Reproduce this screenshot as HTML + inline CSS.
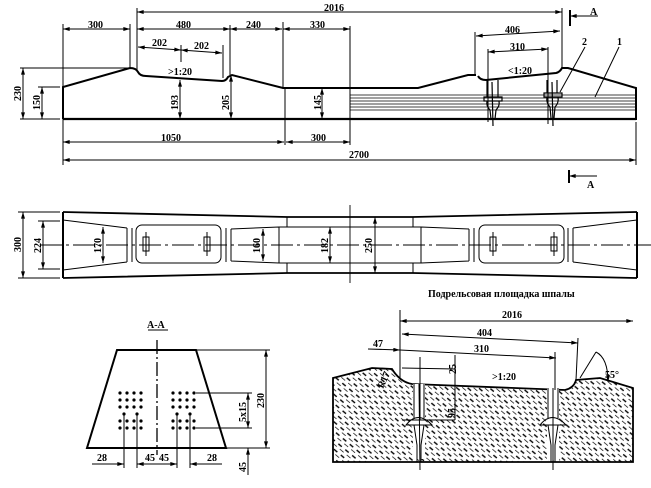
<!DOCTYPE html>
<html><head><meta charset="utf-8"><style>
body{margin:0;background:#fff}
svg{display:block}
text{font-family:"Liberation Serif",serif;font-weight:bold;font-size:10px;fill:#000}
</style></head><body>
<svg width="651" height="488" viewBox="0 0 651 488" xmlns="http://www.w3.org/2000/svg">
<defs>
<marker id="a" viewBox="0 0 10 6" refX="10" refY="3" markerWidth="8" markerHeight="4" orient="auto-start-reverse"><path d="M0,0L10,3L0,6z"/></marker>
<pattern id="h" width="7" height="9" patternUnits="userSpaceOnUse" patternTransform="rotate(-50)"><line x1="0" y1="0" x2="0" y2="5" stroke="#000" stroke-width="1.4"/><line x1="3.5" y1="4.5" x2="3.5" y2="9.5" stroke="#000" stroke-width="1.4"/></pattern>
</defs>
<g stroke="#000" fill="none" stroke-width="1">
<path d="M63,119V87L130,68Q136,68 138,72Q140,76 146,76L222,81Q226,81 228,77L232,75L283,88H418L468,75H476M478,76Q480,80 486,80L556,73Q560,72 562,68L568,68L636,88V119H63" stroke-width="2"/>
<line x1="63" y1="119" x2="636" y2="119" stroke-width="2.2"/>
<g stroke-width="0.8"><line x1="350" y1="95" x2="636" y2="95"/><line x1="350" y1="98" x2="636" y2="98"/><line x1="350" y1="101" x2="636" y2="101"/><line x1="350" y1="104" x2="636" y2="104"/><line x1="350" y1="107" x2="636" y2="107"/><line x1="350" y1="110" x2="636" y2="110"/></g>
<line x1="285" y1="88" x2="285" y2="145"/>
<line x1="283" y1="22" x2="283" y2="88"/>
<line x1="350" y1="26" x2="350" y2="145"/>
<line x1="137" y1="8" x2="137" y2="72"/>
<line x1="130" y1="24" x2="130" y2="68"/>
<line x1="230" y1="25" x2="230" y2="75"/>
<line x1="223" y1="45" x2="223" y2="78"/>
<line x1="63" y1="24" x2="63" y2="165"/>
<line x1="636" y1="122" x2="636" y2="165"/>
<line x1="562" y1="8" x2="562" y2="68"/>
<line x1="475" y1="32" x2="475" y2="75"/>
<line x1="488" y1="49" x2="488" y2="122"/>
<line x1="548" y1="47" x2="548" y2="124"/>
<line x1="20" y1="68" x2="130" y2="68"/>
<line x1="38" y1="87" x2="60" y2="87"/>
<line x1="20" y1="119" x2="60" y2="119"/>
<line x1="181" y1="45" x2="181" y2="62"/>
<g marker-start="url(#a)" marker-end="url(#a)">
<line x1="137" y1="12" x2="562" y2="12"/>
<line x1="63" y1="29" x2="130" y2="29"/>
<line x1="137" y1="29" x2="230" y2="29"/>
<line x1="230" y1="29" x2="282" y2="29"/>
<line x1="283" y1="29" x2="350" y2="29"/>
<line x1="138" y1="47" x2="181" y2="50"/>
<line x1="181" y1="50" x2="222" y2="53"/>
<line x1="180" y1="80" x2="180" y2="119"/>
<line x1="231" y1="75" x2="231" y2="119"/>
<line x1="322" y1="88" x2="322" y2="119"/>
<line x1="23" y1="68" x2="23" y2="119"/>
<line x1="42" y1="87" x2="42" y2="119"/>
<line x1="63" y1="142" x2="284" y2="142"/>
<line x1="286" y1="142" x2="350" y2="142"/>
<line x1="63" y1="160" x2="636" y2="160"/>
<line x1="476" y1="36" x2="560" y2="31"/>
<line x1="488" y1="52" x2="548" y2="49"/>
</g>
<g stroke-width="1.2">
<path d="M487,80V97M498,80V97M484,97H502V101H484zM487,101Q486,106 490,110L491,119M499,101Q500,106 496,110L495,119"/>
<line x1="492" y1="82" x2="493" y2="126"/>
<path d="M547,80V93M557,80V93M544,93H562V97H544zM547,97Q546,103 550,107L551,118M558,97Q559,103 555,107L554,118"/>
<line x1="552" y1="82" x2="553" y2="126"/>
</g>
<line x1="560" y1="92" x2="585" y2="47"/>
<line x1="595" y1="97" x2="619" y2="47"/>
<line x1="570" y1="10" x2="570" y2="26" stroke-width="2"/>
<line x1="570" y1="16" x2="598" y2="16" marker-start="url(#a)"/>
<line x1="569" y1="170" x2="569" y2="183" stroke-width="2"/>
<line x1="569" y1="176" x2="597" y2="176" marker-start="url(#a)"/>

<g id="pl">
<path d="M63,212L287,217H350M63,278L287,273H350" stroke-width="1.8"/>
<line x1="63" y1="212" x2="63" y2="278" stroke-width="2"/>
<path d="M63,220L127,228M63,270L127,262M127,228V262M132,228V262M226,228V262M231,229V261M231,229L279,227M231,261L279,263M279,227V263M279,227H350M279,263H350M287,217V227M287,263V273"/>
<rect x="136" y="225" width="85" height="38" rx="6"/>
<rect x="143" y="237" width="6" height="14"/><rect x="204" y="237" width="6" height="14"/>
<line x1="146" y1="232" x2="146" y2="256"/><line x1="207" y1="232" x2="207" y2="256"/>
</g>
<use href="#pl" transform="matrix(-1,0,0,1,700,0)"/>
<line x1="40" y1="245" x2="651" y2="245" stroke-dasharray="22,4,3,4" stroke-width="0.9"/>
<line x1="350" y1="205" x2="350" y2="283" stroke-width="0.9"/>
<line x1="18" y1="212" x2="60" y2="212"/><line x1="18" y1="278" x2="60" y2="278"/>
<line x1="38" y1="221" x2="60" y2="221"/><line x1="38" y1="269" x2="60" y2="269"/>
<g marker-start="url(#a)" marker-end="url(#a)">
<line x1="23" y1="212" x2="23" y2="278"/>
<line x1="43" y1="221" x2="43" y2="269"/>
<line x1="103" y1="227" x2="103" y2="263"/>
<line x1="263" y1="229" x2="263" y2="261"/>
<line x1="330" y1="227" x2="330" y2="263"/>
<line x1="375" y1="217" x2="375" y2="273"/>
</g>

<line x1="148" y1="330" x2="168" y2="330"/>
<path d="M117,350H196L226,448H87z" stroke-width="2"/>
<line x1="157" y1="340" x2="157" y2="455" stroke-dasharray="14,3,2,3" stroke-width="1.3"/>
<line x1="196" y1="350" x2="270" y2="350"/><line x1="226" y1="448" x2="270" y2="448"/>
<line x1="196" y1="393" x2="252" y2="393"/><line x1="196" y1="428" x2="252" y2="428"/>
<line x1="124" y1="415" x2="124" y2="468"/><line x1="137" y1="415" x2="137" y2="468"/>
<line x1="177" y1="415" x2="177" y2="468"/><line x1="190" y1="415" x2="190" y2="468"/>
<g marker-start="url(#a)" marker-end="url(#a)">
<line x1="266" y1="350" x2="266" y2="448"/>
<line x1="248" y1="393" x2="248" y2="428"/>
</g>
<line x1="248" y1="475" x2="248" y2="448" marker-end="url(#a)"/>
<line x1="92" y1="464" x2="124" y2="464" marker-end="url(#a)"/>
<line x1="137" y1="464" x2="157" y2="464" marker-start="url(#a)"/>
<line x1="157" y1="464" x2="177" y2="464" marker-end="url(#a)"/>
<line x1="190" y1="464" x2="222" y2="464" marker-start="url(#a)"/>

<path d="M333,378L372,368L392,369Q400,382 412,384L565,390Q574,388 576,380L600,378L633,388V462H333z" fill="url(#h)" stroke-width="1.8"/>
<rect x="413" y="384" width="12" height="75" fill="#fff" stroke="none"/>
<rect x="547" y="388" width="12" height="72" fill="#fff" stroke="none"/>
<path d="M414,384V418M424,384V418M406,425Q418,410 432,425zM414,425L417,445V462M424,425L421,445V462M548,388V418M558,388V418M540,425Q552,410 566,425zM548,425L551,445V462M558,425L555,445V462"/>
<line x1="419" y1="384" x2="420" y2="470"/><line x1="553" y1="388" x2="553" y2="470"/>
<line x1="400" y1="310" x2="400" y2="378"/>
<line x1="578" y1="338" x2="576" y2="380"/>
<line x1="420" y1="357" x2="420" y2="420"/>
<line x1="402" y1="368" x2="455" y2="369"/>
<line x1="455" y1="355" x2="455" y2="420"/>
<line x1="402" y1="420" x2="455" y2="420"/>
<line x1="555" y1="352" x2="555" y2="390"/>
<g marker-start="url(#a)" marker-end="url(#a)">
<line x1="400" y1="321" x2="633" y2="321"/>
<line x1="402" y1="334" x2="578" y2="343"/>
</g>
<line x1="400" y1="350" x2="556" y2="358" marker-end="url(#a)"/>
<line x1="368" y1="349" x2="400" y2="350" marker-end="url(#a)"/>
<line x1="580" y1="378" x2="596" y2="352"/>
<path d="M596,352Q608,358 608,382" marker-end="url(#a)"/>
</g>
<text x="88" y="28">300</text><text x="176" y="28">480</text><text x="246" y="28">240</text><text x="310" y="28">330</text>
<text x="324" y="11">2016</text>
<text x="152" y="46">202</text><text x="194" y="49">202</text>
<text x="168" y="75">&gt;1:20</text>
<text x="505" y="33">406</text><text x="510" y="50">310</text><text x="508" y="74">&lt;1:20</text>
<text x="582" y="45">2</text><text x="617" y="45">1</text>
<text x="590" y="15" font-size="8">A</text><text x="587" y="188" font-size="8">A</text>
<text x="161" y="141">1050</text><text x="311" y="141">300</text><text x="349" y="158">2700</text>
<g font-size="9">
<text transform="translate(21,101) rotate(-90)">230</text>
<text transform="translate(40,110) rotate(-90)">150</text>
<text transform="translate(178,110) rotate(-90)">193</text>
<text transform="translate(229,110) rotate(-90)">205</text>
<text transform="translate(321,110) rotate(-90)">145</text>
<text transform="translate(21,252) rotate(-90)">300</text>
<text transform="translate(41,253) rotate(-90)">224</text>
<text transform="translate(101,253) rotate(-90)">170</text>
<text transform="translate(260,253) rotate(-90)">160</text>
<text transform="translate(328,253) rotate(-90)">182</text>
<text transform="translate(372,253) rotate(-90)">250</text>
<text transform="translate(264,408) rotate(-90)">230</text>
<text transform="translate(246,422) rotate(-90)">5x15</text>
<text transform="translate(246,472) rotate(-90)">45</text>
<text transform="translate(456,374) rotate(-90)">25</text>
<text transform="translate(455,418) rotate(-90)">95</text>
</g>
<text x="147" y="328" font-size="9">A-A</text>
<text x="97" y="461" font-size="9">28</text><text x="145" y="461" font-size="9">45</text><text x="159" y="461" font-size="9">45</text><text x="207" y="461" font-size="9">28</text>
<text x="428" y="297" font-size="8">Подрельсовая площадка шпалы</text>
<text x="502" y="318">2016</text><text x="477" y="336">404</text><text x="474" y="352">310</text><text x="373" y="347">47</text>
<text x="492" y="380" font-size="9">&gt;1:20</text>
<text x="605" y="378">55°</text>
<text transform="translate(383,389) rotate(-65)" font-size="9">R17</text>
<g fill="#000">
<g id="d">
<circle cx="120" cy="393" r="1.6"/><circle cx="127" cy="393" r="1.6"/><circle cx="134" cy="393" r="1.6"/><circle cx="141" cy="393" r="1.6"/>
<circle cx="120" cy="400" r="1.6"/><circle cx="127" cy="400" r="1.6"/><circle cx="134" cy="400" r="1.6"/><circle cx="141" cy="400" r="1.6"/>
<circle cx="120" cy="407" r="1.6"/><circle cx="127" cy="407" r="1.6"/><circle cx="134" cy="407" r="1.6"/><circle cx="141" cy="407" r="1.6"/>
<circle cx="124" cy="414" r="1.6"/><circle cx="137" cy="414" r="1.6"/>
<circle cx="120" cy="421" r="1.6"/><circle cx="127" cy="421" r="1.6"/><circle cx="134" cy="421" r="1.6"/><circle cx="141" cy="421" r="1.6"/>
<circle cx="120" cy="428" r="1.6"/><circle cx="127" cy="428" r="1.6"/><circle cx="134" cy="428" r="1.6"/><circle cx="141" cy="428" r="1.6"/>
</g>
<use href="#d" x="53"/>
</g>
</svg>
</body></html>
